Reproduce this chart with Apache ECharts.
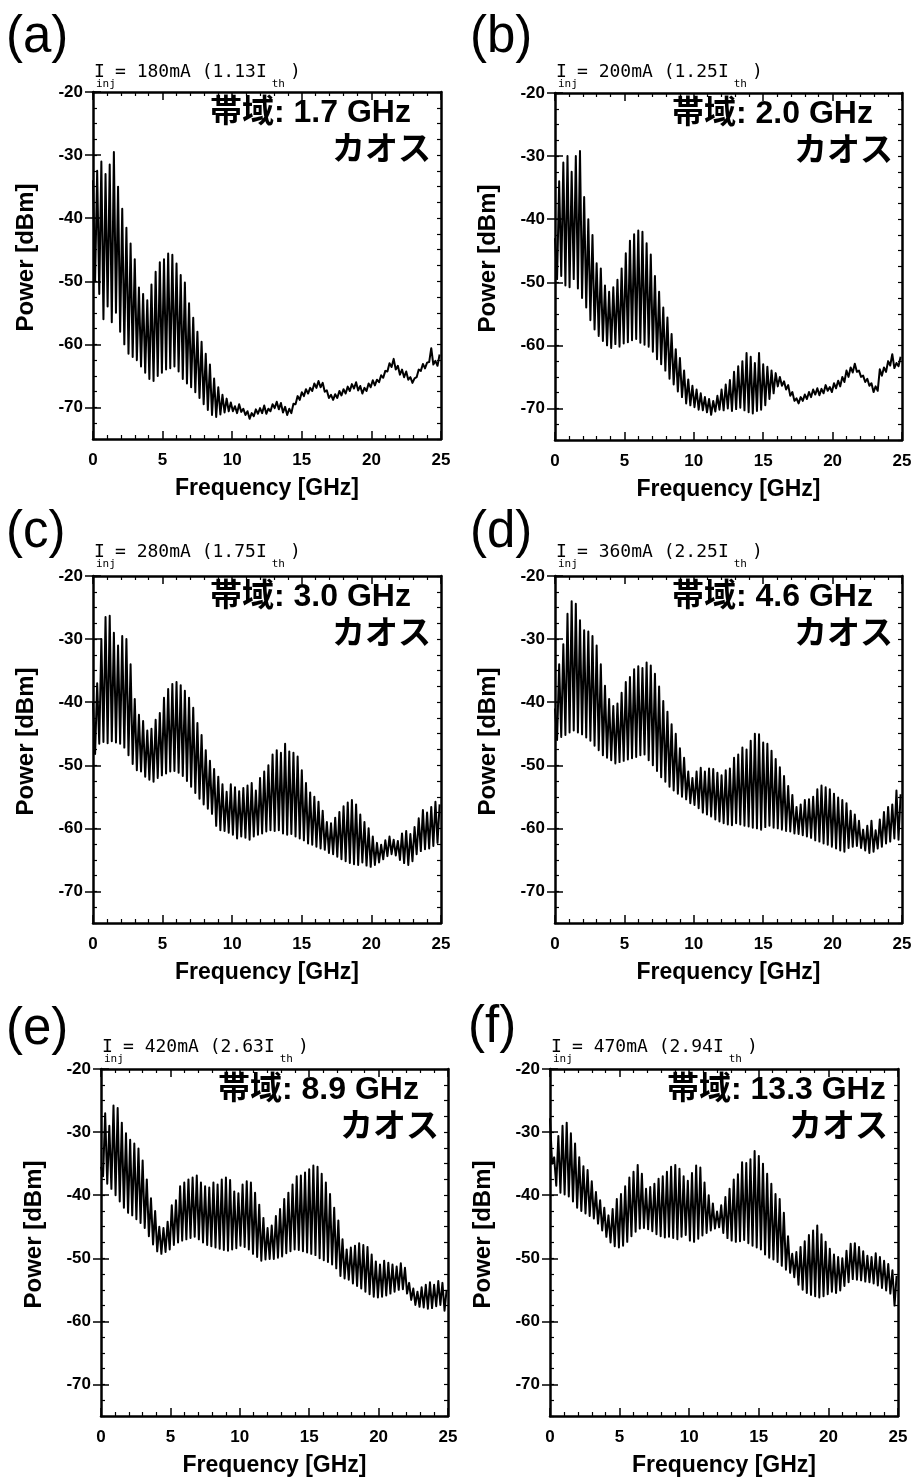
<!DOCTYPE html>
<html>
<head>
<meta charset="utf-8">
<script src="https://cdn.jsdelivr.net/npm/echarts@6/dist/echarts.min.js"></script>
<style>
html,body{margin:0;padding:0;background:#fff;}
#chart{width:915px;height:1481px;}
</style>
</head>
<body>
<div id="chart"></div>
<script>
// ---------------- DATA ----------------
// spectra sampled every 0.15 GHz: peaks (hi) at 0, 0.3, 0.6 ... ; dips (lo) at 0.15, 0.45 ...
const freqStep = 0.15;
const xTicks = [0, 5, 10, 15, 20, 25];
const yTicks = [-70, -60, -50, -40, -30, -20];
const panelLetters = ['(a)', '(b)', '(c)', '(d)', '(e)', '(f)'];
const injCurrents = ['180mA', '200mA', '280mA', '360mA', '420mA', '470mA'];
const injRatios = ['1.13', '1.25', '1.75', '2.25', '2.63', '2.94'];
const bandwidths = ['1.7', '2.0', '3.0', '4.6', '8.9', '13.3'];
const stateLabel = 'カオス';

const hiA = [-34,-32.5,-31,-33,-31.5,-29.5,-35,-38.5,-41.5,-44,-46.5,-51,-52,-53,-50.5,-48.5,-47,-46.5,-45.6,-45.8,
-47.2,-49,-50.2,-53.5,-55.8,-58,-59.6,-61.5,-63.2,-65.4,-66.8,-68,-68.6,-69.2,-69.8,-69.5,-70.2,-70.6,-70.9,-70.3,
-70.1,-69.7,-70.2,-69.5,-69.1,-69.3,-69.9,-70.2,-69.4,-68.2,-67.6,-67.1,-66.9,-66.2,-65.8,-66.1,-67.3,-68,-67.9,-67.4,
-67.1,-66.7,-66.3,-66,-66.6,-66.9,-66.2,-65.7,-65.6,-64.9,-64.2,-63,-62.3,-63.4,-64,-64.3,-65.2,-65.4,-64,-63.1,
-62.9,-60.6,-62.6,-61.6];
const loA = [-50,-52,-56,-54,-56.5,-55,-58,-60,-61.5,-62,-62.5,-63.5,-64.5,-65.5,-65.8,-65,-64.5,-64,-63.8,-63.5,
-64.3,-65.5,-66.2,-66.8,-67.6,-68.5,-69.5,-70.4,-71.2,-71.5,-71.1,-70.8,-70.6,-70.6,-70.9,-70.7,-71.2,-71.8,-71.4,-71,
-70.9,-71,-70.6,-70.1,-70.3,-70.8,-71.2,-70.9,-69.5,-68.8,-68.2,-67.8,-67.4,-66.9,-66.8,-67.5,-68.5,-68.8,-68.5,-68.1,
-67.8,-67.4,-67,-67.3,-67.8,-67.4,-66.8,-66.5,-66,-65.3,-64.3,-63.6,-64,-64.8,-65.2,-65.6,-66.1,-65.2,-64.2,-63.8,
-62.8,-63.2,-63.4];

const hiB = [-43,-34,-31,-30,-32.5,-30,-29.2,-36.5,-40,-42.5,-47,-47.8,-50.5,-51.5,-50.8,-49.6,-47.8,-45.4,-43.4,-42.4,
-41.8,-42,-43.8,-45.6,-49,-51.5,-54,-55.6,-58.2,-60.6,-62,-64,-65.4,-66.4,-67,-67.6,-68.2,-68.5,-68.8,-68,
-67,-66.2,-65.5,-64.2,-63.3,-62.5,-61.2,-61.8,-62.8,-61.2,-63,-63.4,-64,-64.4,-65,-65.7,-66.3,-67.4,-68.4,-68.2,
-67.8,-67.4,-67,-66.8,-66.9,-66.3,-66.6,-66,-65.6,-65,-64,-63.5,-62.9,-64,-64.8,-65.3,-66,-66.5,-63.8,-63.5,
-62.5,-61.4,-62.8,-61.8];
const loB = [-49.5,-49,-50.5,-50.8,-49.5,-51,-52.5,-54,-56,-57.5,-58.5,-59.3,-60,-60.4,-59.8,-60.2,-59.7,-59.5,-59.2,-59,
-59.6,-59.9,-60.2,-61,-62.2,-63,-64,-65.3,-66.2,-67.3,-68.2,-69.2,-69.5,-69.8,-70.2,-70.3,-70.6,-71,-70.5,-70.2,
-70.3,-70,-70.4,-70.1,-69.9,-70.3,-70.6,-70.8,-70.4,-70.2,-69.5,-68.5,-67.6,-66.5,-66.4,-67,-68,-68.8,-69.2,-68.8,
-68.5,-68.2,-67.8,-67.9,-67.6,-67.2,-67.4,-66.8,-66.5,-65.8,-65,-64.3,-64.2,-65,-65.8,-66.4,-67.4,-67.2,-64.8,-64.2,
-63.2,-63.6,-63.3];

const hiC = [-40,-37,-30,-26.5,-26.3,-29,-31,-29.5,-30,-34,-39.5,-42,-43,-44.5,-44.2,-42.8,-41.7,-39.3,-37.9,-37.1,
-36.8,-37.3,-38.2,-39.3,-40.9,-43.3,-45.2,-47.6,-49.3,-50.6,-51.8,-53,-54.2,-53,-53.5,-54.1,-53.6,-53.2,-52.8,-54,
-52,-51,-50,-48.3,-47.6,-48,-46.6,-47.8,-48,-48.6,-50.8,-52.8,-54.3,-55,-55.8,-57.2,-59,-59.2,-58.3,-57.4,
-56.5,-55.9,-55.5,-56.2,-57.8,-59,-60,-61.3,-62.3,-62.6,-61.9,-61.3,-61.8,-62,-60.8,-60.4,-60.9,-59.8,-58.4,-57.1,
-57.5,-56.6,-55.8,-56.2];
const loC = [-48.2,-46.6,-46.3,-46.5,-46.2,-46.4,-46.6,-47.2,-48.4,-49.8,-50.8,-51,-51.8,-52.3,-52.6,-52,-51.6,-51.3,-51,-50.9,
-51.2,-51.7,-52.5,-53.4,-54.4,-55.3,-56.2,-56.9,-57.7,-59.6,-60.3,-60.4,-60.7,-61,-61.6,-61.3,-61.5,-61.8,-61.3,-61,
-60.8,-60.5,-60.3,-60.4,-60.3,-60.8,-61,-60.9,-61.3,-61.6,-61.9,-62.4,-62.6,-62.9,-63.2,-63.4,-63.9,-64.1,-64.5,-64.9,
-65.2,-65.5,-65.7,-65.8,-65.4,-65.9,-66.1,-65.8,-65.4,-64.9,-64.4,-64.1,-64.3,-65,-65.5,-65.8,-65.2,-64.1,-63.6,-63.3,
-63.2,-62.8,-62.3];

const hiD = [-41,-34,-30.8,-26,-24,-24.4,-27,-28.6,-28.8,-29.5,-31,-34,-37.4,-39.5,-40.6,-40.2,-38.5,-36.8,-36,-34.8,
-34.3,-34.6,-33.7,-34.2,-35.5,-37.5,-39.8,-41.5,-43.5,-45,-47.3,-48.8,-51,-52,-51,-50.4,-51,-50.5,-50.6,-51.2,
-51.6,-50.8,-50.5,-48.8,-48.3,-47.2,-47.5,-46.1,-45,-45.1,-46.4,-46.6,-47.7,-49,-50.3,-51.7,-53.3,-54.7,-56.6,-56.2,
-55.5,-55.4,-55,-53.8,-53.2,-53.5,-53.8,-54.5,-55.1,-55.5,-56,-57.2,-57.8,-58.8,-60.2,-59.6,-58.8,-60.3,-58.6,-57.4,
-56.6,-56.2,-54,-54.6];
const loD = [-46,-45.5,-45.2,-44.8,-44.5,-44.8,-45.1,-45.6,-46.1,-46.9,-47.6,-48.4,-48.8,-49.2,-49.7,-49.5,-49.3,-49.1,-48.9,-48.7,
-48.4,-48.3,-49.2,-50,-50.9,-51.9,-52.6,-53.4,-54,-54.5,-55,-55.4,-56,-56.3,-56.8,-57.5,-57.8,-58.1,-58.6,-58.9,
-59.2,-59.4,-59.5,-59.2,-59.4,-59.6,-59.7,-59.9,-60,-60.2,-59.8,-59.6,-59.9,-60,-60.2,-60.4,-60.5,-60.8,-60.9,-61.1,
-61.3,-61.5,-61.9,-62.1,-62.4,-62.6,-62.9,-63.2,-63.5,-63.7,-63.1,-62.9,-62.8,-63.1,-63.5,-63.9,-63.7,-63.2,-62.9,-62.4,
-62.1,-61.6,-61.8];

const hiE = [-35.5,-27,-29,-25.8,-26.2,-28.5,-30.2,-31.2,-31.8,-32.6,-34.5,-37.5,-40.5,-42.5,-45,-45.2,-44.2,-41.6,-40.8,-38.6,
-38,-37.5,-37.2,-36.9,-38,-38.6,-38.8,-38,-38.3,-37.5,-37.2,-37.6,-39.4,-39.7,-38.3,-37.8,-38,-39.6,-41.5,-43.6,
-45.2,-44.8,-43.3,-42.2,-40.6,-39.6,-38.3,-37,-36.9,-36.4,-35.9,-35.3,-35.5,-36.6,-38,-39.8,-42,-44,-47,-48.6,
-48.3,-48,-47.6,-47.9,-48.2,-49.4,-50.5,-51,-50.4,-50.7,-51,-51.3,-50.8,-51.5,-53.9,-54.8,-55.3,-54.6,-54.2,-53.8,
-54.2,-53.6,-53.9,-55];
const loE = [-37,-38.2,-39,-40,-41,-42,-42.8,-43.2,-43.8,-44.4,-45.2,-46.5,-47.8,-48.9,-49.3,-49,-48.6,-47.9,-47.5,-47.2,
-47,-46.8,-46.6,-47,-47.5,-47.9,-48.1,-48.3,-48.5,-48.7,-48.8,-48.6,-48.4,-48,-48.2,-48.6,-49.3,-49.8,-50.4,-50.2,
-50.1,-50.1,-49.9,-49.7,-49.2,-48.9,-48.6,-48.7,-48.9,-49.1,-49.3,-49.5,-50,-50.3,-50.6,-51,-51.6,-52.8,-53.2,-53.4,
-54,-54.4,-54.8,-55.3,-55.7,-56.1,-56.2,-56.1,-55.9,-55.6,-55.3,-55,-54.9,-55.6,-56.6,-57.4,-57.7,-57.8,-58,-57.9,
-57.6,-57.4,-58.3];

const hiF = [-27.8,-34,-30.6,-29,-28.5,-30.2,-31.8,-34,-35.4,-36,-37.8,-39.5,-40.8,-42,-43.2,-42.2,-40.6,-39.8,-38.6,-37.2,
-36.3,-35.2,-36.6,-39,-38.7,-38.2,-37.4,-37,-36.3,-35.5,-35.2,-35.8,-37,-37.7,-36.5,-35.3,-35.6,-38,-40,-41.3,
-42.6,-41.6,-40.3,-39,-37.5,-36.7,-34.8,-34.9,-34.3,-33,-33.8,-35,-36.6,-38.2,-39.8,-40.6,-42.8,-46.5,-49.3,-49,
-48.2,-47.3,-46.3,-45.6,-44.8,-46.2,-47.4,-48.5,-49.4,-49.8,-50,-48.8,-47.7,-47.6,-48.2,-48.9,-49.6,-49.8,-49.2,-49.8,
-50.4,-50.9,-51.9,-52.8];
const loF = [-35,-38.5,-39.6,-39.9,-40.2,-41,-42,-42.5,-42.9,-43.3,-43.7,-44.5,-45.6,-46.6,-47.5,-48.1,-48.3,-48,-47.4,-46.5,
-45.8,-45.3,-45.2,-45.4,-45.7,-46.2,-46.5,-46.7,-46.6,-46.8,-47,-46.6,-46.3,-47.2,-47.4,-46.9,-46.4,-46,-45.6,-45.3,
-45.1,-46,-46.8,-47.2,-47.4,-47.3,-47.1,-47.6,-48,-48.3,-48.6,-49.4,-49.9,-50.2,-50.6,-51.2,-51.8,-52.3,-53,-54.2,
-55,-55.5,-55.8,-56,-56.2,-56,-55.7,-55.3,-55.5,-55.1,-54.4,-53.8,-53.3,-53.4,-53.5,-53.7,-53.8,-54,-54.3,-54.7,
-55.1,-55.6,-57.5];

const hiSeries = [hiA, hiB, hiC, hiD, hiE, hiF];
const loSeries = [loA, loB, loC, loD, loE, loF];

// ---------------- LAYOUT ----------------
const panels = [
  {left: 93,  top: 92,   width: 348, height: 347, letterX: 6,   letterY: 38,   injDy: -20},
  {left: 555, top: 93,   width: 347, height: 347, letterX: 470, letterY: 38,   injDy: -21},
  {left: 93,  top: 576,  width: 348, height: 347, letterX: 6,   letterY: 533,  injDy: -24},
  {left: 555, top: 576,  width: 347, height: 347, letterX: 470, letterY: 533,  injDy: -24},
  {left: 101, top: 1069, width: 347, height: 347, letterX: 6,   letterY: 1030, injDy: -22},
  {left: 550, top: 1069, width: 348, height: 347, letterX: 468, letterY: 1028, injDy: -22}
];

function buildSeries(hi, lo) {
  const out = [];
  const n = hi.length + lo.length;
  for (let k = 0; k < n; k++) {
    const v = (k % 2 === 0) ? hi[k / 2] : lo[(k - 1) / 2];
    out.push([+(k * freqStep).toFixed(2), v]);
  }
  return out;
}

const mctx = document.createElement('canvas').getContext('2d');
function textW(str, font) { mctx.font = font; return mctx.measureText(str).width; }

const tickFont = {fontFamily: '"Liberation Sans", Arial, sans-serif', fontWeight: 'bold', fontSize: 17, color: '#000'};
const monoFont = '18px "DejaVu Sans Mono", monospace';
const subFont = '11px "DejaVu Sans Mono", monospace';

const grids = [], xAxes = [], yAxes = [], series = [], graphics = [];

panels.forEach((p, i) => {
  grids.push({left: p.left, top: p.top, width: p.width, height: p.height, containLabel: false});
  const xBase = {
    type: 'value', gridIndex: i, min: 0, max: 25, interval: 5,
    axisLine: {show: true, onZero: false, lineStyle: {color: '#000', width: 2.5}},
    axisTick: {show: true, inside: true, length: 8, lineStyle: {color: '#000', width: 1.5}},
    minorTick: {show: true, splitNumber: 5, length: 4, lineStyle: {color: '#000', width: 1.2}},
    splitLine: {show: false}, minorSplitLine: {show: false}
  };
  xAxes.push(Object.assign({}, xBase, {
    position: 'bottom',
    axisLabel: Object.assign({show: true, margin: 13, customValues: xTicks}, tickFont)
  }));
  xAxes.push(Object.assign({}, xBase, {position: 'top', axisLabel: {show: false}}));

  const yBase = {
    type: 'value', gridIndex: i, min: -75, max: -20, interval: 2.5,
    splitLine: {show: false}
  };
  yAxes.push(Object.assign({}, yBase, {
    position: 'left',
    axisLine: {show: true, onZero: false, lineStyle: {color: '#000', width: 2.5}},
    axisTick: {show: true, inside: true, length: 4, lineStyle: {color: '#000', width: 1.2}},
    axisLabel: Object.assign({show: true, margin: 10, customValues: yTicks}, tickFont)
  }));
  yAxes.push(Object.assign({}, yBase, {
    position: 'left',
    axisLine: {show: false},
    axisTick: {show: true, inside: true, length: 8, customValues: yTicks, lineStyle: {color: '#000', width: 1.5}},
    axisLabel: {show: false}
  }));
  yAxes.push(Object.assign({}, yBase, {
    position: 'right',
    axisLine: {show: true, onZero: false, lineStyle: {color: '#000', width: 2.5}},
    axisTick: {show: true, inside: true, length: 4, lineStyle: {color: '#000', width: 1.2}},
    axisLabel: {show: false}
  }));
  yAxes.push(Object.assign({}, yBase, {
    position: 'right',
    axisLine: {show: false},
    axisTick: {show: true, inside: true, length: 8, customValues: yTicks, lineStyle: {color: '#000', width: 1.5}},
    axisLabel: {show: false}
  }));

  series.push({
    type: 'line', xAxisIndex: 2 * i, yAxisIndex: 4 * i,
    data: buildSeries(hiSeries[i], loSeries[i]),
    showSymbol: false, symbol: 'none', smooth: false,
    lineStyle: {color: '#000', width: 2, join: 'round'},
    clip: true, animation: false
  });

  // panel letter
  graphics.push({type: 'text', x: p.letterX, y: p.letterY, style: {
    text: panelLetters[i], fill: '#000',
    font: '51px "Liberation Sans", Arial, sans-serif',
    align: 'left', verticalAlign: 'middle'
  }});

  // injection current text with subscripts
  const x0 = p.left + 1;
  const yMain = p.top + p.injDy;
  const ySub = yMain + 12;
  const main2 = '= ' + injCurrents[i] + ' (' + injRatios[i] + 'I';
  const x2 = x0 + 21;
  const xTh = x2 + textW(main2, monoFont) + 5;
  const xClose = xTh + textW('th', subFont) + 5;
  [['I', x0, yMain, monoFont], ['inj', x0 + 2, ySub, subFont], [main2, x2, yMain, monoFont],
   ['th', xTh, ySub, subFont], [')', xClose, yMain, monoFont]].forEach(t => {
    graphics.push({type: 'text', x: t[1], y: t[2], style: {
      text: t[0], fill: '#000', font: t[3], align: 'left', verticalAlign: 'middle'
    }});
  });

  // annotation
  graphics.push({type: 'text', x: p.left + 117, y: p.top + 21, style: {
    text: '帯域: ' + bandwidths[i] + ' GHz', fill: '#000',
    font: 'bold 32px "Liberation Sans", "Noto Sans CJK JP", sans-serif',
    align: 'left', verticalAlign: 'middle'
  }});
  graphics.push({type: 'text', x: p.left + 239, y: p.top + 55, style: {
    text: stateLabel, fill: '#000',
    font: 'bold 33px "Noto Sans CJK JP", sans-serif',
    align: 'left', verticalAlign: 'middle'
  }});
  // axis titles
  graphics.push({type: 'text', x: p.left - 67, y: p.top + p.height / 2 - 8, rotation: Math.PI / 2, style: {
    text: 'Power [dBm]', fill: '#000',
    font: 'bold 24px "Liberation Sans", Arial, sans-serif',
    align: 'center', verticalAlign: 'middle'
  }});
  graphics.push({type: 'text', x: p.left + p.width / 2, y: p.top + p.height + 50, style: {
    text: 'Frequency [GHz]', fill: '#000',
    font: 'bold 23px "Liberation Sans", Arial, sans-serif',
    align: 'center', verticalAlign: 'middle'
  }});
});

const chart = echarts.init(document.getElementById('chart'), null, {renderer: 'canvas'});
chart.setOption({
  backgroundColor: '#fff',
  animation: false,
  grid: grids,
  xAxis: xAxes,
  yAxis: yAxes,
  series: series,
  graphic: graphics
});
</script>
</body>
</html>
